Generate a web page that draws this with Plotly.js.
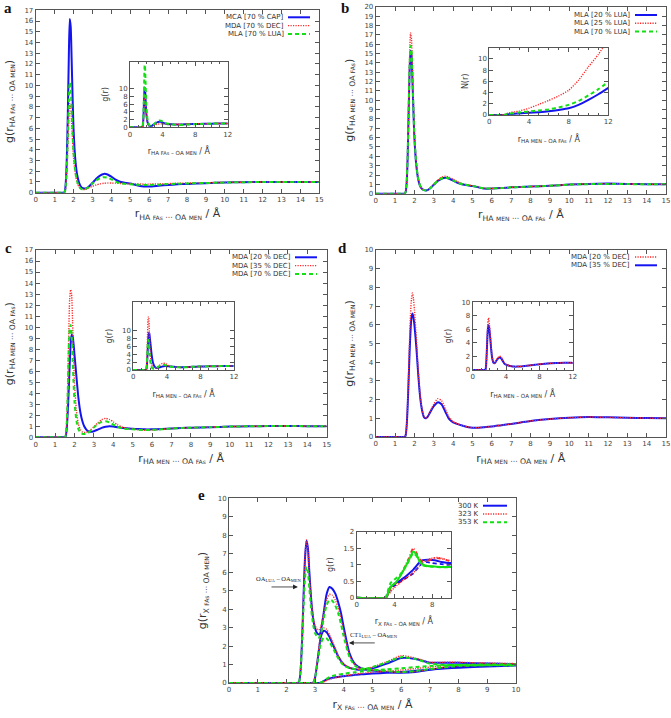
<!DOCTYPE html>
<html><head><meta charset="utf-8">
<script src="https://cdn.plot.ly/plotly-3.0.1.min.js"></script>
<style>html,body{margin:0;padding:0;background:#fff}#chart{width:671px;height:718px}</style>
</head><body><div id="chart"></div>
<script>
// ---------- data ----------
const rA = [0,1.4,1.5,1.55,1.6,1.65,1.7,1.75,1.8,1.85,1.9,1.95,2.0,2.1,2.2,2.3,2.4,2.5,2.6,2.7,2.8,3.0,3.2,3.4,3.6,3.8,4.0,4.2,4.5,4.8,5.0,5.3,5.6,6.0,6.5,7,7.5,8,9,10,11,12,13,14,15];
// panel a
const mcaCap70 = [0,0,0,0.2,1.2,3.5,7.5,12.5,16.2,15.5,12.5,9.0,6.0,3.0,1.6,0.9,0.55,0.42,0.38,0.42,0.55,0.9,1.3,1.6,1.75,1.7,1.5,1.25,1.0,0.9,0.85,0.72,0.6,0.58,0.65,0.72,0.78,0.82,0.88,0.95,0.98,1.0,1.0,1.0,1.0];
const mdaDec70 = [0,0,0,0.1,0.7,2.0,4.3,6.8,8.3,8.0,6.5,4.8,3.3,1.7,0.9,0.5,0.35,0.3,0.3,0.35,0.42,0.6,0.72,0.82,0.88,0.9,0.9,0.88,0.86,0.84,0.83,0.82,0.8,0.8,0.82,0.85,0.88,0.9,0.93,0.96,0.98,1.0,1.0,1.0,1.0];
const mlaLua70 = [0,0,0,0.15,0.9,2.5,5.5,8.5,10.3,9.8,7.8,5.6,3.8,1.9,1.0,0.55,0.35,0.3,0.32,0.4,0.55,0.85,1.15,1.35,1.45,1.4,1.25,1.05,0.88,0.8,0.78,0.75,0.72,0.72,0.75,0.8,0.83,0.86,0.9,0.95,0.98,1.0,1.0,1.0,1.0];
// panel b
const lua20 = [0,0,0,0.2,1.2,3.8,8.5,13.0,15.3,14.8,12.0,8.8,6.0,3.0,1.5,0.8,0.5,0.38,0.35,0.4,0.55,0.95,1.35,1.6,1.7,1.6,1.4,1.2,0.98,0.88,0.82,0.68,0.55,0.55,0.6,0.68,0.72,0.76,0.85,0.98,1.05,1.08,1.05,1.02,1.0];
const lua25 = [0,0,0,0.25,1.4,4.3,9.5,14.5,17.2,16.5,13.3,9.6,6.5,3.2,1.6,0.85,0.52,0.4,0.36,0.42,0.58,1.0,1.45,1.75,1.88,1.78,1.55,1.3,1.05,0.92,0.86,0.7,0.58,0.56,0.6,0.68,0.72,0.76,0.85,0.98,1.05,1.08,1.05,1.02,1.0];
const lua70 = [0,0,0,0.2,1.3,4.0,8.8,13.5,15.8,15.3,12.4,9.0,6.2,3.1,1.55,0.82,0.5,0.38,0.35,0.4,0.56,0.97,1.38,1.62,1.72,1.62,1.42,1.22,1.0,0.9,0.84,0.7,0.57,0.56,0.6,0.68,0.72,0.76,0.85,0.97,1.02,1.05,1.03,1.01,1.0];
const rN = [0,1,1.5,2,2.5,3,4,5,6,7,8,9,10,11,12];
const nLua20 = [0,0,0.02,0.15,0.22,0.28,0.4,0.5,0.65,0.9,1.2,1.8,2.7,3.7,4.85];
const nLua25 = [0,0,0.05,0.4,0.55,0.7,1.2,1.9,2.6,3.4,4.4,6.2,8.6,10.8,13.5];
const nLua70 = [0,0,0.02,0.25,0.35,0.45,0.65,0.8,1.0,1.35,1.8,2.5,3.5,4.6,5.9];
// panel c
const dec20c = [0,0,0,0.1,0.8,2.2,4.2,6.5,8.4,9.3,9.2,8.5,7.5,5.5,3.6,2.3,1.5,1.0,0.72,0.56,0.5,0.55,0.7,0.85,0.95,1.0,0.97,0.92,0.85,0.8,0.78,0.75,0.72,0.72,0.75,0.8,0.84,0.87,0.92,0.97,1.0,1.02,1.03,1.01,1.0];
const dec35c = [0,0,0,0.2,1.5,4.5,9.0,12.5,13.4,13.0,10.5,7.5,5.0,2.4,1.2,0.7,0.5,0.45,0.45,0.5,0.62,0.95,1.3,1.6,1.72,1.62,1.4,1.15,0.9,0.8,0.76,0.68,0.64,0.66,0.72,0.8,0.84,0.87,0.92,0.97,1.0,1.02,1.03,1.01,1.0];
const dec70c = [0,0,0,0.2,1.3,4.0,7.8,9.8,10.2,9.4,7.2,5.0,3.2,1.5,0.75,0.42,0.32,0.3,0.32,0.4,0.55,0.9,1.2,1.4,1.45,1.35,1.15,0.95,0.8,0.75,0.72,0.68,0.66,0.68,0.72,0.8,0.84,0.87,0.92,0.97,1.0,1.02,1.03,1.01,1.0];
const dec70cInset = [0,0,0,0.15,1.0,3.0,5.8,7.3,7.6,7.0,5.4,3.8,2.5,1.2,0.62,0.38,0.3,0.3,0.32,0.4,0.55,0.85,1.1,1.25,1.3,1.22,1.08,0.92,0.8,0.75,0.72,0.68,0.66,0.68,0.72,0.8,0.84,0.87,0.92,0.97,1.0,1.02,1.03,1.01,1.0];
// panel d
const dec20d = [0,0,0,0.1,0.7,1.8,3.4,5.2,6.6,7.4,7.7,7.4,6.8,5.3,3.5,2.2,1.45,1.08,1.02,1.13,1.35,1.75,2.05,1.95,1.5,1.05,0.82,0.72,0.61,0.53,0.5,0.5,0.52,0.56,0.63,0.7,0.78,0.86,0.96,1.03,1.07,1.05,1.03,1.01,1.0];
const dec35d = [0,0,0,0.1,0.6,1.6,3.0,4.5,5.7,6.4,6.6,6.4,6.0,4.8,3.3,2.1,1.4,1.05,1.0,1.1,1.3,1.65,1.85,1.75,1.35,0.95,0.78,0.7,0.6,0.52,0.5,0.5,0.52,0.56,0.63,0.7,0.78,0.86,0.96,1.03,1.07,1.05,1.03,1.01,1.0];
// panel e
const rE = [0,2.4,2.45,2.5,2.55,2.6,2.65,2.7,2.75,2.8,2.85,2.9,2.95,3.0,3.05,3.1,3.15,3.2,3.3,3.4,3.5,3.6,3.7,3.8,3.9,4.0,4.2,4.4,4.6,4.8,5.0,5.5,6.0,6.5,7.0,7.5,8,9,10];
const oa300 = [0,0,0.1,0.8,2.5,4.8,6.8,7.7,7.3,6.0,4.8,3.9,3.3,2.95,2.75,2.65,2.62,2.8,3.8,4.8,5.2,5.1,4.85,4.4,3.8,3.0,1.6,1.0,0.8,0.72,0.68,0.6,0.56,0.6,0.72,0.82,0.9,0.95,1.0];
const oa323 = [0,0,0.12,0.9,2.6,4.9,6.9,7.75,7.2,5.9,4.8,4.0,3.4,3.1,2.95,2.88,2.9,3.05,3.8,4.5,4.8,4.75,4.5,4.1,3.5,2.8,1.5,0.95,0.78,0.72,0.7,0.62,0.58,0.62,0.74,0.84,0.92,0.97,1.02];
const oa353 = [0,0,0.12,0.8,2.3,4.2,5.7,6.3,6.0,5.1,4.2,3.5,3.0,2.7,2.55,2.45,2.48,2.65,3.5,4.2,4.5,4.45,4.2,3.8,3.2,2.5,1.4,0.92,0.8,0.75,0.73,0.65,0.6,0.65,0.76,0.85,0.92,0.96,1.0];
const ct300 = [0,0,0,0,0,0,0,0,0,0,0,0,0.05,0.3,0.8,1.4,2.0,2.5,2.82,2.75,2.5,2.15,1.8,1.45,1.2,1.0,0.82,0.75,0.72,0.74,0.8,1.05,1.35,1.3,1.1,1.1,1.1,1.05,1.02];
const ct323 = [0,0,0,0,0,0,0,0,0,0,0,0,0.06,0.35,0.9,1.5,2.15,2.65,2.98,2.9,2.62,2.25,1.88,1.5,1.22,1.02,0.84,0.77,0.74,0.78,0.86,1.15,1.48,1.35,1.12,1.12,1.12,1.08,1.05];
const ct353 = [0,0,0,0,0,0,0,0,0,0,0,0,0.05,0.28,0.75,1.25,1.75,2.15,2.45,2.42,2.22,1.95,1.65,1.35,1.12,0.95,0.8,0.74,0.73,0.78,0.86,1.12,1.4,1.3,1.05,0.98,0.97,0.96,0.95];
const x300 = [0,0,0,0,0,0,0,0,0,0,0,0,0,0,0,0,0,0.02,0.1,0.18,0.24,0.28,0.31,0.33,0.35,0.37,0.41,0.44,0.47,0.49,0.51,0.55,0.6,0.66,0.73,0.78,0.83,0.9,0.95];
const x323 = [0,0,0,0,0,0,0,0,0,0,0,0,0,0,0,0,0,0.01,0.06,0.13,0.2,0.25,0.29,0.32,0.35,0.38,0.43,0.48,0.52,0.55,0.58,0.64,0.7,0.78,0.86,0.93,0.98,1.02,1.02];
const x353 = [0,0,0,0,0,0,0,0,0,0,0,0,0,0,0,0,0,0.03,0.1,0.22,0.32,0.38,0.42,0.45,0.48,0.5,0.55,0.58,0.62,0.65,0.68,0.74,0.8,0.86,0.92,0.96,0.98,1.0,1.0];
const rEi = [0,3.0,3.2,3.4,3.6,3.8,4.0,4.3,4.6,5.0,5.5,6.0,6.3,6.6,7.0,7.5,8.0,8.5,9.0,9.5,10];
const in300a = [0,0,0.04,0.2,0.33,0.37,0.42,0.47,0.52,0.6,0.72,0.85,0.95,1.05,1.14,1.15,1.14,1.12,1.08,1.06,1.05];
const in300b = [0,0,0.03,0.15,0.28,0.33,0.36,0.42,0.48,0.55,0.64,0.74,0.84,0.94,1.05,1.08,1.05,1.03,1.02,1.0,1.0];
const in323a = [0,0,0.03,0.15,0.28,0.35,0.4,0.5,0.65,0.88,1.18,1.5,1.38,1.2,1.1,1.12,1.17,1.2,1.18,1.14,1.1];
const in323b = [0,0,0.02,0.1,0.18,0.25,0.3,0.38,0.45,0.55,0.65,0.75,0.85,0.95,1.05,1.15,1.2,1.22,1.2,1.15,1.12];
const in353a = [0,0,0.05,0.2,0.33,0.38,0.42,0.52,0.65,0.85,1.12,1.4,1.32,1.15,1.0,0.96,0.95,0.94,0.93,0.93,0.93];
const in353b = [0,0,0.1,0.3,0.45,0.5,0.55,0.62,0.7,0.85,1.1,1.35,1.28,1.12,0.98,0.95,0.94,0.93,0.92,0.92,0.92];

const legA = ['MCA [70 % CAP]','MDA [70 % DEC]','MLA [70 % LUA]'];
const legB = ['MLA [20 % LUA]','MLA [25 % LUA]','MLA [70 % LUA]'];
const legC = ['MDA [20 % DEC]','MDA [35 % DEC]','MDA [70 % DEC]'];
const legD = ['MDA [20 % DEC]','MDA [35 % DEC]'];
const legE = ['300 K','323 K','353 K'];

// ---------- styles ----------
const W = 671, H = 718;
const FONT = 'DejaVu Sans, Liberation Sans, sans-serif';
const BLUE = {color:'#1414f0', width:2};
const RED = {color:'#ff2a2a', width:1.4, dash:'1.2px,1.3px'};
const GREEN = {color:'#12e012', width:2, dash:'4px,3px'};
const BLUEDASH = {color:'#1414f0', width:1.8, dash:'4px,3px'};
const REDDASH = {color:'#ff2a2a', width:1.8, dash:'4px,2px,1px,2px'};
const GREENSOLID = {color:'#12e012', width:2};

function tr(x, y, line, ax, ay) {
  return {x, y, type:'scatter', mode:'lines', line:Object.assign({shape:'spline', smoothing:0.6}, line), xaxis:ax, yaxis:ay, showlegend:false, hoverinfo:'skip'};
}
const traces = [
  // a
  tr(rA, mcaCap70, BLUE, 'x', 'y'), tr(rA, mdaDec70, RED, 'x', 'y'), tr(rA, mlaLua70, GREEN, 'x', 'y'),
  tr(rA, mlaLua70, BLUE, 'x2', 'y2'), tr(rA, mdaDec70, RED, 'x2', 'y2'), tr(rA, mcaCap70, GREEN, 'x2', 'y2'),
  // b
  tr(rA, lua20, BLUE, 'x3', 'y3'), tr(rA, lua25, RED, 'x3', 'y3'), tr(rA, lua70, GREEN, 'x3', 'y3'),
  tr(rN, nLua20, BLUE, 'x4', 'y4'), tr(rN, nLua25, RED, 'x4', 'y4'), tr(rN, nLua70, GREEN, 'x4', 'y4'),
  // c
  tr(rA, dec20c, BLUE, 'x5', 'y5'), tr(rA, dec35c, RED, 'x5', 'y5'), tr(rA, dec70c, GREEN, 'x5', 'y5'),
  tr(rA, dec20c, BLUE, 'x6', 'y6'), tr(rA, dec35c, RED, 'x6', 'y6'), tr(rA, dec70cInset, GREEN, 'x6', 'y6'),
  // d
  tr(rA, dec35d, BLUE, 'x7', 'y7'), tr(rA, dec20d, RED, 'x7', 'y7'),
  tr(rA, dec35d, BLUE, 'x8', 'y8'), tr(rA, dec20d, RED, 'x8', 'y8'),
  // e
  tr(rE, oa300, BLUE, 'x9', 'y9'), tr(rE, ct300, BLUE, 'x9', 'y9'), tr(rE, x300, BLUE, 'x9', 'y9'),
  tr(rE, oa323, RED, 'x9', 'y9'), tr(rE, ct323, RED, 'x9', 'y9'), tr(rE, x323, RED, 'x9', 'y9'),
  tr(rE, oa353, GREEN, 'x9', 'y9'), tr(rE, ct353, GREEN, 'x9', 'y9'), tr(rE, x353, GREEN, 'x9', 'y9'),
  tr(rEi, in300a, BLUE, 'x10', 'y10'), tr(rEi, in300b, BLUEDASH, 'x10', 'y10'),
  tr(rEi, in323a, REDDASH, 'x10', 'y10'), tr(rEi, in323b, RED, 'x10', 'y10'),
  tr(rEi, in353a, GREENSOLID, 'x10', 'y10'), tr(rEi, in353b, GREEN, 'x10', 'y10')
];

// pixel boxes [left, right, top, bottom]
const box = {
  a:[35.7,319.3,10.3,192.7], ai:[130,227.7,61.7,127.3],
  b:[375.7,666,6.7,193.7],   bi:[489.3,608.3,47.7,115],
  c:[35.7,326.7,250,437.3],  ci:[133.3,234,302.3,370],
  d:[375.7,666,250,437],     di:[472.7,572.7,302.3,370],
  e:[229,516,498.3,683],     ei:[356.7,451,531.7,597.7]
};
const xd = b => [b[0]/W, b[1]/W];
const yd = b => [1-b[3]/H, 1-b[2]/H];

function axis(dom, range, anchor, extra) {
  return Object.assign({
    domain: dom, range: range, anchor: anchor, showgrid:false, zeroline:false,
    showline:true, linecolor:'#555', linewidth:1, mirror:'allticks',
    ticks:'inside', ticklen:4, tickwidth:1, tickcolor:'#555',
    tickfont:{family:FONT, size:7, color:'#444'}
  }, extra);
}
const sm = 'font-size:6px';
function lbl(a, b) { return 'r<sub>' + a[0] + ' <span style="' + sm + '">' + a[1] + '</span> ··· ' + b[0] + ' <span style="' + sm + '">' + b[1] + '</span></sub> / Å'; }
function glbl(a, b) { return 'g(r<sub>' + a[0] + ' <span style="' + sm + '">' + a[1] + '</span> ··· ' + b[0] + ' <span style="' + sm + '">' + b[1] + '</span></sub>)'; }
function ilbl(a, b) { return 'r<sub>' + a[0] + ' <span style="font-size:5px">' + a[1] + '</span> – ' + b[0] + ' <span style="font-size:5px">' + b[1] + '</span></sub> / Å'; }
const TF = {family:FONT, size:11, color:'#333'};
const TFi = {family:FONT, size:8, color:'#333'};
const mainX = (b, r, an, t) => axis(xd(b), r, an, {dtick:1, tick0:0, title:{text:t, font:TF, standoff:6}});
const mainY = (b, r, an, t) => axis(yd(b), r, an, {dtick:1, tick0:0, title:{text:t, font:TF, standoff:8}});
const insX = (b, r, an, t, tv) => axis(xd(b), r, an, {tickvals:tv, minor:{dtick:1, tick0:0, ticks:'inside', ticklen:2, tickcolor:'#555'}, title:{text:t, font:TFi, standoff:10}});
const insY = (b, r, an, t, tv) => axis(yd(b), r, an, {tickvals:tv, title:{text:t, font:TFi, standoff:8}});

const HA_FA = ['HA','FAs'], OA_MEN = ['OA','MEN'], HA_MEN = ['HA','MEN'], OA_FA = ['OA','FAs'], X_FA = ['X','FAs'];
const ev = [0,2,4,6,8,10];
const layout = {
  width: W, height: H, margin:{l:0,r:0,t:0,b:0}, paper_bgcolor:'#fff', plot_bgcolor:'rgba(0,0,0,0)',
  showlegend:false, font:{family:FONT},
  xaxis: mainX(box.a, [0,15], 'y', lbl(HA_FA, OA_MEN)),
  yaxis: mainY(box.a, [0,17], 'x', glbl(HA_FA, OA_MEN)),
  xaxis2: insX(box.ai, [0,12], 'y2', ilbl(HA_FA, OA_MEN), [0,4,8,12]),
  yaxis2: insY(box.ai, [0,17], 'x2', 'g(r)', ev),
  xaxis3: mainX(box.b, [0,15], 'y3', lbl(HA_MEN, OA_FA)),
  yaxis3: mainY(box.b, [0,20], 'x3', glbl(HA_MEN, OA_FA)),
  xaxis4: insX(box.bi, [0,12], 'y4', ilbl(HA_MEN, OA_FA), [0,4,8,12]),
  yaxis4: insY(box.bi, [0,12], 'x4', 'N(r)', ev),
  xaxis5: mainX(box.c, [0,15], 'y5', lbl(HA_MEN, OA_FA)),
  yaxis5: mainY(box.c, [0,17], 'x5', glbl(HA_MEN, OA_FA)),
  xaxis6: insX(box.ci, [0,12], 'y6', ilbl(HA_MEN, OA_FA), [0,4,8,12]),
  yaxis6: insY(box.ci, [0,17], 'x6', 'g(r)', ev),
  xaxis7: mainX(box.d, [0,15], 'y7', lbl(HA_MEN, OA_MEN)),
  yaxis7: mainY(box.d, [0,10], 'x7', glbl(HA_MEN, OA_MEN)),
  xaxis8: insX(box.di, [0,12], 'y8', ilbl(HA_MEN, OA_MEN), [0,4,8,12]),
  yaxis8: insY(box.di, [0,10], 'x8', 'g(r)', ev),
  xaxis9: mainX(box.e, [0,10], 'y9', lbl(X_FA, OA_MEN)),
  yaxis9: mainY(box.e, [0,10], 'x9', glbl(X_FA, OA_MEN)),
  xaxis10: insX(box.ei, [0,10], 'y10', ilbl(X_FA, OA_MEN), [0,4,8]),
  yaxis10: insY(box.ei, [0,2], 'x10', 'g(r)', [0,0.5,1,1.5,2]),
  annotations: [], shapes: []
};

// legends (text right-aligned, sample line on the right, gnuplot style)
function legend(labels, styles, textRight, l0, l1, rows) {
  labels.forEach((t, i) => {
    layout.annotations.push({xref:'paper', yref:'paper', x:textRight/W, y:1-rows[i]/H, xanchor:'right', yanchor:'middle',
      align:'right', text:t, showarrow:false, borderpad:0, height:7.5,
      font:{family:FONT, size:7, color:'#333'}});
    layout.shapes.push({type:'line', xref:'paper', yref:'paper', x0:l0/W, x1:l1/W, y0:1-rows[i]/H, y1:1-rows[i]/H,
      line:{color:styles[i].color, width:styles[i].width, dash:styles[i].dash||'solid'}});
  });
}
legend(legA, [BLUE, RED, GREEN], 285, 288, 310, [17.3, 25.6, 33.9]);
legend(legB, [BLUE, RED, GREEN], 631, 635, 657, [15, 23.3, 31.6]);
legend(legC, [BLUE, RED, GREEN], 292, 295, 317, [257.3, 265.6, 273.9]);
legend(legD, [RED, BLUE], 631, 635, 657, [257, 265.3]);
legend(legE, [BLUE, RED, GREEN], 480, 483, 507, [505.7, 514, 522.3]);

// panel letters
[['a',8,8],['b',345,8],['c',8,248],['d',343,248],['e',201,495]].forEach(p => {
  layout.annotations.push({xref:'paper', yref:'paper', x:p[1]/W, y:1-p[2]/H, xanchor:'center', yanchor:'middle',
    text:'<b>'+p[0]+'</b>', showarrow:false, font:{family:'Liberation Serif, DejaVu Serif, serif', size:15, color:'#111'}});
});

// panel e arrows and labels
const SERIF = {family:'Liberation Serif, DejaVu Serif, serif', size:6.5, color:'#222'};
layout.annotations.push(
  {xref:'x9', yref:'y9', axref:'x9', ayref:'y9', x:2.4, y:5.2, ax:1.36, ay:5.2, text:' ', showarrow:true, arrowhead:2, arrowsize:1.2, arrowwidth:0.8, arrowcolor:'#222'},
  {xref:'x9', yref:'y9', x:1.72, y:5.65, text:'OA<sub>LUA</sub> – OA<sub>MEN</sub>', showarrow:false, font:SERIF},
  {xref:'x9', yref:'y9', axref:'x9', ayref:'y9', x:4.18, y:2.17, ax:5.2, ay:2.17, text:' ', showarrow:true, arrowhead:2, arrowsize:1.2, arrowwidth:0.8, arrowcolor:'#222'},
  {xref:'x9', yref:'y9', x:5.05, y:2.6, text:'CT1<sub>LUA</sub> – OA<sub>MEN</sub>', showarrow:false, font:SERIF}
);

Plotly.newPlot('chart', traces, layout, {staticPlot:true});
</script></body></html>
